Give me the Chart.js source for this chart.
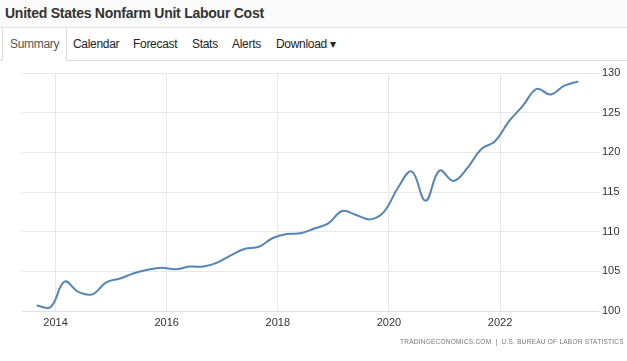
<!DOCTYPE html>
<html>
<head>
<meta charset="utf-8">
<script src="https://cdn.jsdelivr.net/npm/chart.js@4"></script>
<style>
	body { margin:0; background:#fff; font-family:"Liberation Sans", Arial, sans-serif; width:627px; height:361px; overflow:hidden; position:relative; }
	#head { position:absolute; left:0; top:0; width:627px; height:27px; background:#fafafa; border-bottom:1px solid #e3e3e3; }
	#head h1 { margin:0; padding:5px 0 0 5px; font-size:14px; letter-spacing:-0.25px; font-weight:bold; color:#333; }
	#tabs { position:absolute; left:0; top:28px; width:627px; height:32px; border-bottom:1px solid #ddd; }
	#tabs span { position:absolute; top:9px; font-size:12px; letter-spacing:-0.3px; color:#222; }
	#tabs .on { left:2px; top:0; height:32px; width:63px; background:#fff; border-left:1px solid #ddd; border-right:1px solid #ddd; border-bottom:1px solid #fff; }
	#tabs .on b { font-weight:normal; position:absolute; left:7px; top:9px; color:#555; }
	#wrap { position:absolute; left:0; top:62px; width:627px; height:299px; }
	#src { position:absolute; left:400px; top:338px; font-size:6.5px; color:#777; letter-spacing:0.25px; white-space:nowrap; }
</style>
</head>
<body>
<div id="head"><h1>United States Nonfarm Unit Labour Cost</h1></div>
<div id="tabs">
	<span class="on"><b>Summary</b></span>
	<span style="left:73px">Calendar</span>
	<span style="left:133px">Forecast</span>
	<span style="left:192px">Stats</span>
	<span style="left:232px">Alerts</span>
	<span style="left:276px">Download &#9662;</span>
</div>
<div id="wrap"><canvas id="line-chart"></canvas></div>
<div id="src">TRADINGECONOMICS.COM &nbsp;|&nbsp; U.S. BUREAU OF LABOR STATISTICS</div>
<script>
// 분기 라벨
const quarters = [
	"2013Q3","2013Q4",
	"2014Q1","2014Q2","2014Q3","2014Q4",
	"2015Q1","2015Q2","2015Q3","2015Q4",
	"2016Q1","2016Q2","2016Q3","2016Q4",
	"2017Q1","2017Q2","2017Q3","2017Q4",
	"2018Q1","2018Q2","2018Q3","2018Q4",
	"2019Q1","2019Q2","2019Q3","2019Q4",
	"2020Q1","2020Q2","2020Q3","2020Q4",
	"2021Q1","2021Q2","2021Q3","2021Q4",
	"2022Q1","2022Q2","2022Q3","2022Q4",
	"2023Q1","2023Q2"
];
// 단위 노동비용 지수
const laborCost = [
	100.7, 100.5,
	103.7, 102.4, 102.1, 103.6,
	104.1, 104.75, 105.2, 105.45,
	105.25, 105.6, 105.6, 106.1,
	107.05, 107.85, 108.1, 109.2,
	109.7, 109.8, 110.4, 111.05,
	112.6, 112.1, 111.55, 112.5,
	115.5, 117.6, 113.9, 117.7,
	116.4, 118.0, 120.4, 121.4,
	123.9, 125.85, 128.0, 127.3,
	128.4, 128.95
];
const yearTicks = [2014, 2016, 2018, 2020, 2022];
const yTicks = [100, 105, 110, 115, 120, 125, 130];

// 분기 -> 연도 소수
function qToYear(q){
	return parseInt(q.slice(0,4)) + (parseInt(q.slice(5)) - 1) * 0.25 + 0.16;
}
const points = quarters.map((q, i) => ({x: qToYear(q), y: laborCost[i]}));

new Chart(document.getElementById("line-chart"), {
	type: 'line',
	data: {
		datasets: [{
			data: points,
			borderColor: "#5585b5",
			borderWidth: 2,
			tension: 0.4,
			pointRadius: 0,
			fill: false
		}]
	},
	options: {
		responsive: true,
		maintainAspectRatio: false,
		animation: false,
		layout: { padding: { left: 22, top: 11, right: 0, bottom: 29 } },
		plugins: { legend: { display: false }, tooltip: { enabled: false } },
		scales: {
			x: {
				type: 'linear',
				min: 2013.395,
				max: 2023.728,
				afterBuildTicks: s => { s.ticks = yearTicks.map(v => ({value: v})); },
				afterFit: s => { s.height = 21; },
				grid: { color: "#e8e8e8", drawTicks: false },
				border: { color: "#e0e0e0" },
				ticks: { padding: 5, color: "#333", font: { family: "Liberation Sans", size: 11 },
					callback: v => String(v) }
			},
			y: {
				position: 'right',
				min: 100,
				max: 130,
				afterBuildTicks: s => { s.ticks = yTicks.map(v => ({value: v})); },
				afterFit: s => { s.width = 31; },
				grid: { color: "#e8e8e8", tickLength: 4 },
				border: { display: false },
				ticks: { padding: 2, color: "#333", font: { family: "Liberation Sans", size: 11 } }
			}
		}
	}
});
</script>
</body>
</html>
